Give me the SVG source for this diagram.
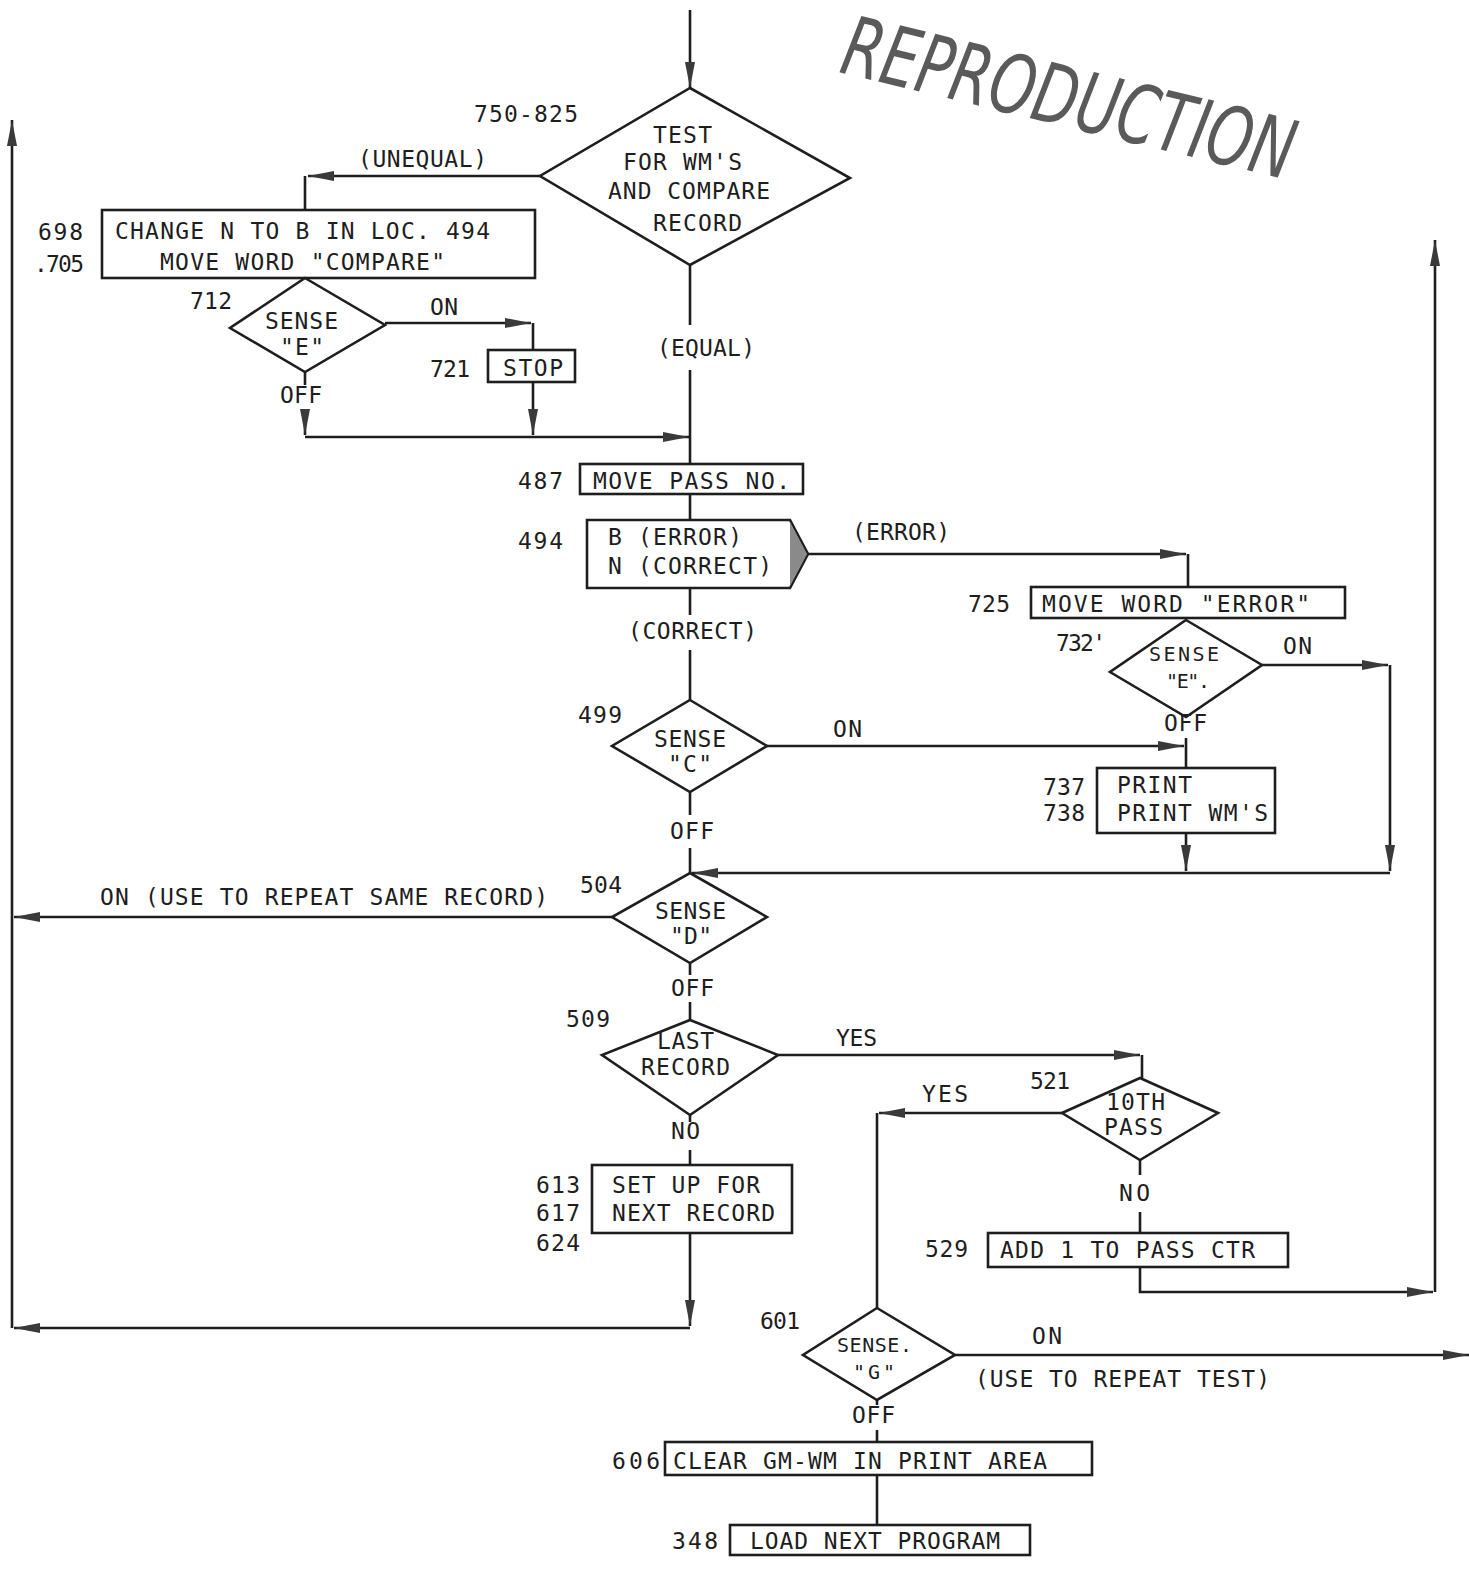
<svg xmlns="http://www.w3.org/2000/svg" width="1469" height="1588" viewBox="0 0 1469 1588">
<defs>
<marker id="ah" markerUnits="userSpaceOnUse" markerWidth="28" markerHeight="12" refX="26" refY="6" orient="auto">
<path d="M0,1 L26,6 L0,11 z" fill="#3a3a3a"/>
</marker>
<style>
.n{fill:none;stroke:#1e1e1e;stroke-width:2.6}
.c{fill:none;stroke:#1e1e1e;stroke-width:2.6}
.a{marker-end:url(#ah)}
text{font-family:"DejaVu Sans Mono","Liberation Mono",monospace;font-size:23px;fill:#1e1e1e}
.sm{font-size:20px}
.stamp{font-family:"DejaVu Sans Condensed","Liberation Sans",sans-serif;font-size:82px;fill:#5a5a5a;font-style:italic}
</style>
</defs>
<rect width="1469" height="1588" fill="#ffffff"/>

<text class="stamp" x="838" y="72" transform="rotate(13.5 838 72)" textLength="462" lengthAdjust="spacingAndGlyphs">REPRODUCTION</text>

<g id="connectors">
<path class="c a" d="M690,10 V88"/>
<path class="c a" d="M540,176 H308"/>
<path class="c" d="M305,176 V210"/>
<path class="c a" d="M385,323 H531"/>
<path class="c" d="M533,323 V350"/>
<path class="c a" d="M533,382 V435"/>
<path class="c" d="M305,372 V385"/>
<path class="c a" d="M305,410 V435"/>
<path class="c a" d="M305,437 H689"/>
<path class="c" d="M690,265 V325"/>
<path class="c" d="M690,370 V464"/>
<path class="c" d="M690,494 V520"/>
<path class="c a" d="M808,554 H1186"/>
<path class="c" d="M1188,554 V587"/>
<path class="c" d="M690,588 V615"/>
<path class="c" d="M690,650 V700"/>
<path class="c a" d="M1262,665 H1388"/>
<path class="c a" d="M1390,665 V871"/>
<path class="c" d="M1186,738 V768"/>
<path class="c a" d="M767,746 H1184"/>
<path class="c a" d="M1186,833 V871"/>
<path class="c a" d="M1390,873 H692"/>
<path class="c" d="M690,792 V815"/>
<path class="c" d="M690,848 V873"/>
<path class="c a" d="M612,917 H14"/>
<path class="c a" d="M12,1328 V120"/>
<path class="c" d="M690,963 V975"/>
<path class="c" d="M690,1002 V1020"/>
<path class="c a" d="M778,1055 H1140"/>
<path class="c" d="M1142,1055 V1078"/>
<path class="c" d="M690,1115 V1122"/>
<path class="c" d="M690,1150 V1165"/>
<path class="c a" d="M690,1233 V1326"/>
<path class="c a" d="M690,1328 H14"/>
<path class="c a" d="M1062,1113 H879"/>
<path class="c" d="M877,1113 V1308"/>
<path class="c" d="M1140,1160 V1175"/>
<path class="c" d="M1140,1212 V1233"/>
<path class="c a" d="M1140,1267 V1292 H1433"/>
<path class="c a" d="M1435,1292 V240"/>
<path class="c a" d="M955,1355 H1469"/>
<path class="c" d="M877,1400 V1405"/>
<path class="c" d="M877,1430 V1442"/>
<path class="c" d="M877,1475 V1525"/>
</g>

<g id="n750">
<polygon class="n" points="690,88 850,178 690,265 540,176"/>
<text x="474" y="122" textLength="104">750-825</text>
<text x="653" y="143" textLength="59">TEST</text>
<text x="623" y="170" textLength="119">FOR WM'S</text>
<text x="608" y="199" textLength="162">AND COMPARE</text>
<text x="653" y="231" textLength="89">RECORD</text>
<text x="358" y="167" textLength="129">(UNEQUAL)</text>
<text x="657" y="356" textLength="98">(EQUAL)</text>
</g>

<g id="n698">
<rect class="n" x="102" y="210" width="433" height="68"/>
<text x="38" y="240" textLength="45">698</text>
<text x="34" y="272" textLength="50">.705</text>
<text x="115" y="239" textLength="375">CHANGE N TO B IN LOC. 494</text>
<text x="160" y="270" textLength="285">MOVE WORD "COMPARE"</text>
</g>

<g id="n712">
<polygon class="n" points="305,278 385,325 305,372 230,328"/>
<text x="190" y="309" textLength="42">712</text>
<text x="265" y="329" textLength="73">SENSE</text>
<text x="280" y="355" textLength="44">"E"</text>
<text x="430" y="315" textLength="28">ON</text>
<text x="280" y="403" textLength="42">OFF</text>
</g>

<g id="n721">
<rect class="n" x="488" y="350" width="87" height="32"/>
<text x="430" y="377" textLength="40">721</text>
<text x="503" y="376" textLength="60">STOP</text>
</g>

<g id="n487">
<rect class="n" x="580" y="464" width="223" height="30"/>
<text x="518" y="489" textLength="45">487</text>
<text x="593" y="489" textLength="197">MOVE PASS NO.</text>
</g>

<g id="n494">
<polygon class="n" points="587,520 790,520 808,554 790,588 587,588"/>
<polygon points="790,522 807,554 790,586" fill="#8a8a8a"/>
<text x="518" y="549" textLength="45">494</text>
<text x="608" y="545" textLength="134">B (ERROR)</text>
<text x="608" y="574" textLength="164">N (CORRECT)</text>
<text x="852" y="540" textLength="98">(ERROR)</text>
<text x="628" y="639" textLength="129">(CORRECT)</text>
</g>

<g id="n725">
<rect class="n" x="1031" y="587" width="314" height="31"/>
<text x="968" y="612" textLength="42">725</text>
<text x="1042" y="612" textLength="268">MOVE WORD "ERROR"</text>
</g>

<g id="n732">
<polygon class="n" points="1186,620 1262,665 1186,717 1110,672"/>
<text x="1056" y="651" textLength="50">732'</text>
<text class="sm" x="1149" y="661" textLength="70">SENSE</text>
<text class="sm" x="1166" y="688" textLength="44">"E".</text>
<text x="1283" y="654" textLength="29">ON</text>
<text x="1164" y="731" textLength="43">OFF</text>
</g>

<g id="n499">
<polygon class="n" points="690,700 767,746 690,792 612,746"/>
<text x="578" y="723" textLength="44">499</text>
<text x="654" y="747" textLength="72">SENSE</text>
<text x="668" y="772" textLength="44">"C"</text>
<text x="833" y="737" textLength="29">ON</text>
<text x="670" y="839" textLength="44">OFF</text>
</g>

<g id="n737">
<rect class="n" x="1097" y="768" width="178" height="65"/>
<text x="1043" y="795" textLength="42">737</text>
<text x="1043" y="821" textLength="42">738</text>
<text x="1117" y="793" textLength="75">PRINT</text>
<text x="1117" y="821" textLength="151">PRINT WM'S</text>
</g>

<g id="n504">
<polygon class="n" points="690,873 767,917 690,963 612,917"/>
<text x="580" y="893" textLength="42">504</text>
<text x="655" y="919" textLength="71">SENSE</text>
<text x="670" y="944" textLength="42">"D"</text>
<text x="100" y="905" textLength="448">ON (USE TO REPEAT SAME RECORD)</text>
<text x="671" y="996" textLength="43">OFF</text>
</g>

<g id="n509">
<polygon class="n" points="690,1020 778,1055 690,1115 602,1055"/>
<text x="566" y="1027" textLength="44">509</text>
<text x="657" y="1049" textLength="57">LAST</text>
<text x="641" y="1075" textLength="89">RECORD</text>
<text x="836" y="1046" textLength="41">YES</text>
<text x="671" y="1139" textLength="29">NO</text>
</g>

<g id="n613">
<rect class="n" x="592" y="1165" width="200" height="68"/>
<text x="536" y="1193" textLength="44">613</text>
<text x="536" y="1221" textLength="44">617</text>
<text x="536" y="1251" textLength="44">624</text>
<text x="612" y="1193" textLength="148">SET UP FOR</text>
<text x="612" y="1221" textLength="163">NEXT RECORD</text>
</g>

<g id="n521">
<polygon class="n" points="1140,1078 1218,1113 1140,1160 1062,1113"/>
<text x="1030" y="1089" textLength="40">521</text>
<text x="1106" y="1110" textLength="59">10TH</text>
<text x="1104" y="1135" textLength="59">PASS</text>
<text x="922" y="1102" textLength="46">YES</text>
<text x="1119" y="1201" textLength="31">NO</text>
</g>

<g id="n529">
<rect class="n" x="988" y="1233" width="300" height="34"/>
<text x="925" y="1257" textLength="43">529</text>
<text x="1000" y="1258" textLength="255">ADD 1 TO PASS CTR</text>
</g>

<g id="n601">
<polygon class="n" points="877,1308 955,1355 877,1400 803,1355"/>
<text x="760" y="1329" textLength="40">601</text>
<text class="sm" x="837" y="1352" textLength="75">SENSE.</text>
<text class="sm" x="853" y="1379" textLength="42">"G"</text>
<text x="1032" y="1344" textLength="30">ON</text>
<text x="975" y="1387" textLength="295">(USE TO REPEAT TEST)</text>
<text x="852" y="1423" textLength="43">OFF</text>
</g>

<g id="n606">
<rect class="n" x="665" y="1442" width="427" height="33"/>
<text x="612" y="1469" textLength="48">606</text>
<text x="673" y="1469" textLength="374">CLEAR GM-WM IN PRINT AREA</text>
</g>

<g id="n348">
<rect class="n" x="730" y="1525" width="300" height="30"/>
<text x="672" y="1549" textLength="46">348</text>
<text x="750" y="1549" textLength="250">LOAD NEXT PROGRAM</text>
</g>
</svg>
